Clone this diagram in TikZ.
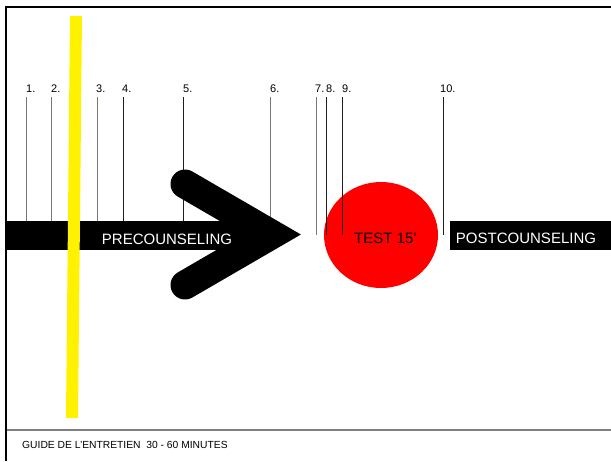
\documentclass[tikz,border=0pt]{standalone}
\usepackage{fontspec}
\setmainfont{Liberation Sans}
\definecolor{tickgray}{RGB}{120,120,120}
\definecolor{tickdark}{RGB}{30,30,30}
\definecolor{rulegray}{RGB}{128,128,128}
\begin{document}
\begin{tikzpicture}[x=1pt,y=-1pt,
  numlabel/.style={anchor=base west,inner sep=0pt,font=\fontsize{11}{13}\selectfont},
  bigtext/.style={anchor=base,inner sep=0pt,font=\fontsize{15}{18}\selectfont},
  tickg/.style={draw=tickgray,line width=1pt},
  tickd/.style={draw=tickdark,line width=1pt}]
\useasboundingbox (0,0) rectangle (611,461);
\fill[white] (0,0) rectangle (611,461);
% frame
\draw[line width=2pt,black] (6,461) -- (6,7) -- (611,7);
\draw[line width=2pt,rulegray] (7,430) -- (611,430);
% number labels
\foreach \n/\x in {1/26,2/51,3/96,4/122,5/183,6/270,7/315,8/326,9/342,10/440}
  \node[numlabel] (n\n) at (\x,92) {\n.};
% tick coordinates
\foreach \n/\x in {1/26,2/51,3/97,4/123,5/183,6/270}{
  \coordinate (t\n) at (\x,97); \coordinate (b\n) at (\x,221);}
\foreach \n/\x in {7/316,8/326,9/342,10/443}{
  \coordinate (t\n) at (\x,97); \coordinate (b\n) at (\x,235);}
\draw[tickg] (t1) -- (b1);
\draw[tickg] (t2) -- (b2);
\draw[tickg] (t3) -- (b3);
\draw[tickd] (t4) -- (b4);
\draw[tickd] (t5) -- (b5);
\draw[tickg] (t6) -- (b6);
% bar
\fill[black] (6,221) rectangle (272,250);
% chevron
\coordinate (c1) at (185,184);
\coordinate (cv) at (272,234.5);
\coordinate (c2) at (185,285);
\draw[black,line width=29pt,line cap=round,line join=miter] (c1) -- (cv) -- (c2);
\node[bigtext,text=white] (pre) at (167,244) {PRECOUNSELING};
% yellow bar
\coordinate (y1) at (76,16);
\coordinate (y2) at (72,418);
\draw[yellow,line width=12pt] (y1) -- (y2);
% red circle
\fill[red] (381,235) ellipse [x radius=57,y radius=53];
\draw[tickg] (t7) -- (b7);
\draw[tickd] (t8) -- (b8);
\draw[tickd] (t9) -- (b9);
\draw[tickd] (t10) -- (b10);
\node[bigtext,text=black] (test) at (385.5,243) {TEST 15’};
% postcounseling box
\fill[black] (450,221) rectangle (611,250);
\node[bigtext,text=white] (post) at (526,243) {POSTCOUNSELING};
% footer
\node[anchor=base west,inner sep=0pt,font=\fontsize{10.3}{12}\selectfont] (foot) at (22,448) {GUIDE DE L’ENTRETIEN\ \ 30 - 60 MINUTES};
\end{tikzpicture}
\end{document}
